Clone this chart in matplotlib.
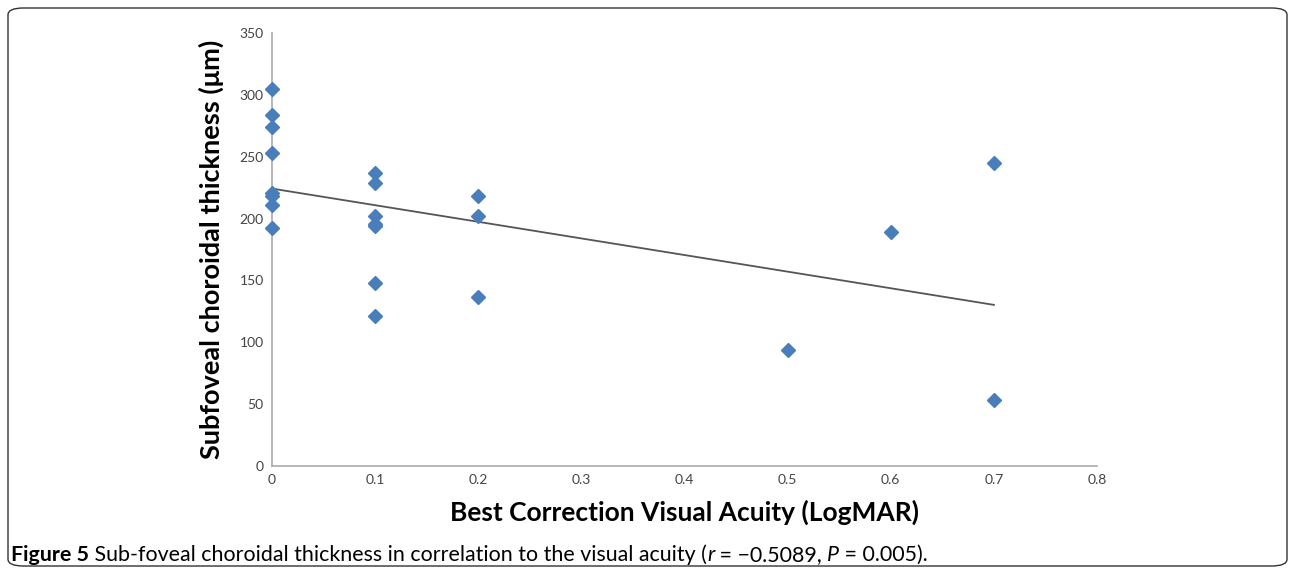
import matplotlib
matplotlib.use('Agg')
import matplotlib.pyplot as plt
import numpy as np
from matplotlib.patches import FancyBboxPatch

# Dados (LogMAR x espessura)
acuidade = [0, 0, 0, 0, 0, 0, 0, 0,
            0.1, 0.1, 0.1, 0.1, 0.1, 0.1, 0.1,
            0.2, 0.2, 0.2,
            0.5, 0.6, 0.7, 0.7]
espessura = [305, 284, 274, 253, 221, 218, 211, 192,
             237, 229, 202, 196, 194, 148, 121,
             218, 202, 137,
             94, 189, 245, 53]

x_ticks = [0, 0.1, 0.2, 0.3, 0.4, 0.5, 0.6, 0.7, 0.8]
y_ticks = [0, 50, 100, 150, 200, 250, 300, 350]

plt.rcParams['font.family'] = ['Lato', 'DejaVu Sans']

fig = plt.figure(figsize=(12.9, 5.68), dpi=100)
ax = fig.add_axes([272 / 1290, 1 - 466 / 568, (1097 - 272) / 1290, (466 - 33) / 568])

# Linha de tendência (regressão linear)
coef = np.polyfit(acuidade, espessura, 1)
xs = np.array([0, 0.7])
ax.plot(xs, np.polyval(coef, xs), color='#555555', lw=1.3, zorder=2)

ax.plot(acuidade, espessura, 'D', color='#4a7ebb', ms=7.5, mec='#4a7ebb', zorder=3, clip_on=False)

ax.set_xlim(0, 0.8)
ax.set_ylim(0, 350)
ax.set_xticks(x_ticks)
ax.set_xticklabels(['0', '0.1', '0.2', '0.3', '0.4', '0.5', '0.6', '0.7', '0.8'])
ax.set_yticks(y_ticks)
ax.tick_params(length=0, labelsize=10, labelcolor='#444444', pad=6)
for lado in ['top', 'right']:
    ax.spines[lado].set_visible(False)
for lado in ['left', 'bottom']:
    ax.spines[lado].set_color('#aaaaaa')
    ax.spines[lado].set_linewidth(1.2)

ax.set_xlabel('Best Correction Visual Acuity (LogMAR)', fontsize=19, fontweight='bold')
ax.xaxis.set_label_coords(0.5, -(512 - 466) / 433, transform=ax.transAxes)
ax.xaxis.label.set_va('center')
ax.set_ylabel('Subfoveal choroidal thickness (μm)', fontsize=19.5, fontweight='bold')
ax.yaxis.set_label_coords(-(272 - 211) / 825, 0.5, transform=ax.transAxes)
ax.yaxis.label.set_va('center')

# Moldura arredondada
moldura = FancyBboxPatch((8 / 1290, 2 / 568), 1279 / 1290, 558 / 568,
                         boxstyle='round,pad=0,rounding_size=0.012',
                         transform=fig.transFigure, fill=False, ec='#333333', lw=1.0)
fig.patches.append(moldura)

# Legenda da figura em pedaços (negrito / itálico)
pedacos = [('Figure 5', 'bold', 'normal'),
           (' Sub-foveal choroidal thickness in correlation to the visual acuity (', 'normal', 'normal'),
           ('r', 'normal', 'italic'),
           (' = \u22120.5089, ', 'normal', 'normal'),
           ('P', 'normal', 'italic'),
           (' = 0.005).', 'normal', 'normal')]
renderer = fig.canvas.get_renderer()
xpos = 11
for texto, peso, estilo in pedacos:
    t = fig.text(xpos / 1290, 1 - 561 / 568, texto, fontsize=15.4, fontweight=peso,
                 fontstyle=estilo, va='baseline', ha='left')
    bb = t.get_window_extent(renderer)
    xpos = bb.x1

fig.savefig('out.png', dpi=100)
